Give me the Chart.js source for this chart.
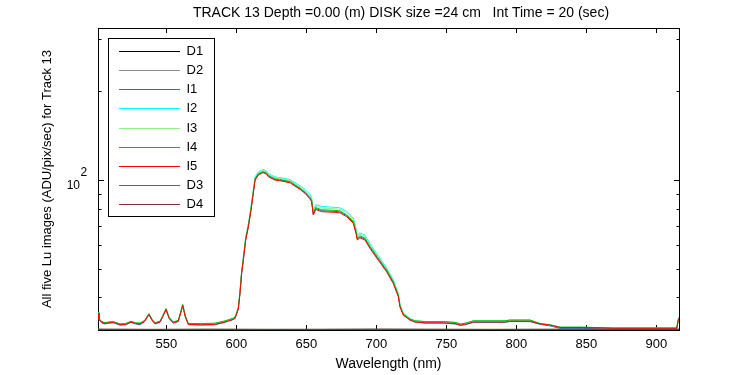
<!DOCTYPE html>
<html lang="en">
<head>
<meta charset="UTF-8" />
<title>TRACK 13 - Lu images</title>
<script src="https://cdn.jsdelivr.net/npm/chart.js"></script>
<style>
  body { margin: 0; background: #fff; }
</style>
</head>
<body>
<canvas id="grafica" width="750" height="375"></canvas>
<script>
// longitudes de onda (nm) de las cinco imagenes de luz
const wl = [
  501.2, 501.9, 504.0, 506.2, 509.0, 512.1, 516.9, 521.0, 524.8, 528.0,
  531.2, 534.5, 537.6, 539.8, 541.9, 545.5, 547.5, 549.8, 552.0, 555.0,
  558.5, 560.3, 561.7, 563.5, 565.7, 575.0, 584.8, 591.9, 594.3, 597.0,
  599.1, 601.4, 602.6, 603.8, 605.0, 606.7, 608.6, 610.5, 612.1, 613.4,
  615.7, 618.1, 619.2, 621.7, 622.9, 627.6, 631.0, 634.8, 638.5, 641.9,
  645.5, 649.1, 652.5, 653.8, 655.0, 656.7, 661.0, 670.5, 674.1, 678.8,
  683.6, 685.5, 686.4, 688.3, 691.9, 695.5, 701.4, 707.4, 712.1, 715.7,
  716.9, 719.3, 724.1, 727.6, 734.8, 747.8, 756.2, 760.3, 764.6, 769.3,
  792.0, 795.0, 809.8, 816.9, 824.1, 826.4, 831.2, 847.8, 869.3, 914.6,
  915.7, 916.2
];
const i1 = [
  35.3, 33.6, 32.7, 32.5, 32.7, 32.8, 32.2, 32.3, 32.9, 32.5,
  32.3, 33.1, 34.9, 33.4, 32.5, 32.9, 34.4, 36.3, 33.9, 32.7,
  33.1, 35.4, 37.5, 34.4, 32.3, 32.2, 32.3, 32.9, 33.2, 33.5,
  33.9, 36.4, 41.1, 48.2, 53.5, 62.7, 69.6, 79.4, 90.5, 100.4,
  104.6, 106.0, 106.5, 105.1, 103.1, 100.5, 100.0, 99.2, 98.3, 95.9,
  93.5, 90.6, 87.0, 84.9, 76.5, 80.1, 78.7, 78.3, 78.0, 75.7,
  71.9, 66.4, 63.1, 64.2, 63.1, 59.1, 53.9, 49.2, 44.9, 40.5,
  37.3, 34.9, 33.5, 33.0, 32.7, 32.7, 32.5, 32.1, 32.4, 32.9,
  32.9, 33.1, 33.1, 32.4, 32.0, 31.8, 31.4, 31.4, 31.3, 31.3,
  33.4, 33.9
];
const i2 = [
  35.6, 33.8, 33.0, 32.7, 32.9, 33.0, 32.4, 32.5, 33.1, 32.7,
  32.6, 33.3, 35.2, 33.6, 32.7, 33.1, 34.6, 36.6, 34.1, 32.9,
  33.3, 35.6, 37.8, 34.6, 32.5, 32.4, 32.5, 33.1, 33.4, 33.7,
  34.1, 36.8, 42.0, 49.3, 54.8, 64.2, 71.2, 81.1, 92.4, 102.5,
  106.6, 108.0, 108.6, 107.2, 105.2, 102.5, 102.0, 101.2, 100.3, 98.0,
  95.6, 93.0, 89.5, 87.5, 78.5, 82.5, 81.4, 80.8, 80.5, 78.3,
  74.3, 68.8, 65.0, 66.2, 65.0, 60.8, 55.4, 50.3, 45.9, 41.3,
  38.0, 35.4, 33.9, 33.3, 33.1, 33.1, 32.9, 32.4, 32.7, 33.3,
  33.3, 33.5, 33.5, 32.6, 32.25, 32.05, 31.65, 31.65, 31.45, 31.45,
  33.6, 34.1
];
const i3 = [
  35.6, 33.9, 33.1, 32.8, 33.0, 33.1, 32.5, 32.6, 33.2, 32.8,
  32.7, 33.4, 35.2, 33.7, 32.8, 33.2, 34.7, 36.6, 34.2, 33.0,
  33.4, 35.7, 37.8, 34.7, 32.6, 32.5, 32.6, 33.2, 33.5, 33.8,
  34.2, 36.8, 41.8, 49.0, 54.5, 63.7, 70.7, 80.5, 91.7, 101.8,
  105.9, 107.3, 107.8, 106.5, 104.4, 101.8, 101.3, 100.5, 99.6, 97.2,
  94.8, 91.8, 88.2, 86.4, 77.7, 81.6, 80.3, 79.9, 79.6, 77.3,
  73.4, 67.9, 64.3, 65.5, 64.3, 60.2, 54.9, 49.9, 45.5, 41.0,
  37.7, 35.2, 33.8, 33.3, 33.1, 33.1, 32.9, 32.4, 32.7, 33.3,
  33.3, 33.5, 33.5, 32.6, 32.25, 32.05, 31.65, 31.65, 31.45, 31.45,
  33.6, 34.1
];
const i4 = [
  35.5, 33.9, 33.1, 32.8, 33.0, 33.1, 32.5, 32.6, 33.2, 32.8,
  32.7, 33.4, 35.2, 33.7, 32.8, 33.2, 34.7, 36.6, 34.2, 33.0,
  33.4, 35.7, 37.8, 34.7, 32.6, 32.6, 32.7, 33.3, 33.6, 33.9,
  34.3, 36.8, 41.5, 48.6, 54.0, 63.2, 70.1, 79.9, 91.0, 101.0,
  105.0, 106.4, 106.9, 105.6, 103.6, 101.0, 100.5, 99.7, 98.8, 96.4,
  94.0, 91.0, 87.4, 85.3, 76.9, 80.7, 79.3, 78.9, 78.6, 76.2,
  72.4, 66.9, 63.5, 64.7, 63.5, 59.5, 54.3, 49.5, 45.2, 40.7,
  37.5, 35.1, 33.8, 33.3, 33.1, 33.1, 32.9, 32.5, 32.8, 33.3,
  33.3, 33.5, 33.5, 32.6, 32.3, 32.1, 31.7, 31.7, 31.5, 31.5,
  33.7, 34.2
];
const i5 = [
  35.4, 33.7, 32.9, 32.6, 32.8, 32.9, 32.3, 32.4, 33.0, 32.6,
  32.5, 33.2, 35.0, 33.5, 32.6, 33.0, 34.5, 36.4, 34.0, 32.8,
  33.2, 35.5, 37.6, 34.5, 32.4, 32.3, 32.4, 33.0, 33.3, 33.6,
  34.0, 36.5, 41.2, 48.2, 53.5, 62.6, 69.4, 79.1, 90.1, 100.0,
  104.0, 105.4, 105.9, 104.6, 102.6, 100.0, 99.5, 98.7, 97.8, 95.4,
  93.0, 90.1, 86.5, 84.4, 76.1, 79.5, 78.1, 77.7, 77.4, 75.1,
  71.3, 65.9, 62.6, 63.7, 62.6, 58.6, 53.5, 48.8, 44.6, 40.2,
  37.1, 34.8, 33.5, 33.0, 32.8, 32.8, 32.6, 32.2, 32.5, 33.0,
  33.0, 33.2, 33.2, 32.5, 32.2, 32.0, 31.6, 31.6, 31.4, 31.4,
  33.5, 34.0
];

// imagenes oscuras (casi en el borde inferior)
const darkWl = [501.2, 540, 580, 620, 660, 700, 740, 780, 820, 860, 900, 916.2];
const d1 = [31.14, 31.12, 31.15, 31.13, 31.12, 31.16, 31.13, 31.12, 31.14, 31.13, 31.12, 31.15];
const d2 = [31.15, 31.13, 31.14, 31.12, 31.13, 31.15, 31.14, 31.13, 31.12, 31.14, 31.13, 31.14];
const d3 = [31.16, 31.14, 31.15, 31.14, 31.15, 31.16, 31.15, 31.14, 31.15, 31.16, 31.14, 31.16];
const d4 = [31.17, 31.15, 31.16, 31.15, 31.16, 31.17, 31.16, 31.15, 31.16, 31.17, 31.15, 31.17];

const nombres = ['D1', 'D2', 'I1', 'I2', 'I3', 'I4', 'I5', 'D3', 'D4'];
const colores = ['#000000', '#8c8c8c', '#1f6fd0', '#00ffff', '#90ee90', '#00c000', '#ff0000', '#805858', '#803434'];
const seriesX = [darkWl, darkWl, wl, wl, wl, wl, wl, darkWl, darkWl];
const seriesY = [d1, d2, i1, i2, i3, i4, i5, d3, d4];

const xTicks = [550, 600, 650, 700, 750, 800, 850, 900];
const yTicks = [40, 50, 60, 70, 80, 90, 100, 200, 300];
const yMajor = 100;
const titulo = 'TRACK 13 Depth =0.00 (m) DISK size =24 cm   Int Time = 20 (sec)';
const fuente = "'Liberation Sans', Arial, sans-serif";

// ejes estilo matlab: marco, marcas hacia dentro, 10^2
const marco = {
  id: 'marco',
  beforeDatasetsDraw(chart) {
    const { ctx, chartArea: a, scales: { x, y } } = chart;
    ctx.save();
    ctx.strokeStyle = '#000';
    ctx.lineWidth = 1;
    ctx.strokeRect(a.left + 0.5, a.top + 0.5, a.right - a.left, a.bottom - a.top);
    ctx.beginPath();
    xTicks.forEach(v => {
      const px = Math.round(x.getPixelForValue(v)) + 0.5;
      ctx.moveTo(px, a.bottom); ctx.lineTo(px, a.bottom - 5);
      ctx.moveTo(px, a.top); ctx.lineTo(px, a.top + 5);
    });
    yTicks.forEach(v => {
      const py = Math.round(y.getPixelForValue(v)) + 0.5;
      const len = v === yMajor ? 6 : 3.5;
      ctx.moveTo(a.left, py); ctx.lineTo(a.left + len, py);
      ctx.moveTo(a.right + 1, py); ctx.lineTo(a.right + 1 - len, py);
    });
    ctx.stroke();
    ctx.restore();
  },
  afterDraw(chart) {
    const { ctx, scales: { y } } = chart;
    ctx.save();
    ctx.fillStyle = '#000';
    // etiqueta 10^2
    const py = y.getPixelForValue(yMajor);
    ctx.font = '12px ' + fuente;
    ctx.textAlign = 'right';
    ctx.textBaseline = 'alphabetic';
    ctx.fillText('10', 80, py + 9);
    ctx.textAlign = 'left';
    ctx.fillText('2', 80.5, py - 4);
    // titulo
    ctx.font = '14px ' + fuente;
    ctx.textAlign = 'center';
    ctx.textBaseline = 'middle';
    ctx.fillText(titulo, 401, 13);
    // leyenda
    ctx.fillStyle = '#fff';
    ctx.fillRect(108.5, 38.5, 106, 178);
    ctx.strokeStyle = '#000';
    ctx.lineWidth = 1;
    ctx.strokeRect(108.5, 38.5, 106, 178);
    ctx.font = '13px ' + fuente;
    ctx.textAlign = 'left';
    chart.data.datasets.forEach((ds, k) => {
      const ly = Math.round(51 + k * 19.16) + 0.5;
      ctx.strokeStyle = ds.borderColor;
      ctx.beginPath();
      ctx.moveTo(119, ly); ctx.lineTo(180, ly);
      ctx.stroke();
      ctx.fillStyle = '#000';
      ctx.fillText(ds.label, 186.5, ly);
    });
    ctx.restore();
  }
};

const datasets = nombres.map((n, k) => ({
  label: n,
  data: seriesX[k].map((xv, j) => ({ x: xv, y: seriesY[k][j] })),
  borderColor: colores[k],
  backgroundColor: colores[k],
  borderWidth: 1,
  pointRadius: 0,
  fill: false,
  tension: 0,
  order: nombres.length - k
}));

new Chart(document.getElementById('grafica'), {
  type: 'line',
  data: { datasets },
  options: {
    responsive: false,
    animation: false,
    events: [],
    layout: { padding: { top: 28, right: 71, left: 0, bottom: 0 } },
    plugins: {
      legend: { display: false },
      tooltip: { enabled: false },
      title: { display: false }
    },
    scales: {
      x: {
        type: 'linear',
        min: 501.2,
        max: 916.2,
        grid: { display: false, drawTicks: false },
        border: { display: false },
        afterBuildTicks: s => { s.ticks = xTicks.map(v => ({ value: v })); },
        ticks: { color: '#000', font: { family: fuente, size: 13 }, padding: 7, maxRotation: 0, autoSkip: false },
        title: { display: true, text: 'Wavelength (nm)', color: '#000', font: { family: fuente, size: 14 }, padding: { top: 0, bottom: 2 } },
        afterFit: s => { s.height = 45; }
      },
      y: {
        type: 'logarithmic',
        min: 31,
        max: 328,
        grid: { display: false, drawTicks: false },
        border: { display: false },
        ticks: { display: false },
        title: { display: true, text: 'All five Lu images (ADU/pix/sec) for Track 13', color: '#000', font: { family: fuente, size: 13 }, padding: { top: 40, bottom: 0 } },
        afterFit: s => { s.width = 98; }
      }
    }
  },
  plugins: [marco]
});
</script>
</body>
</html>
